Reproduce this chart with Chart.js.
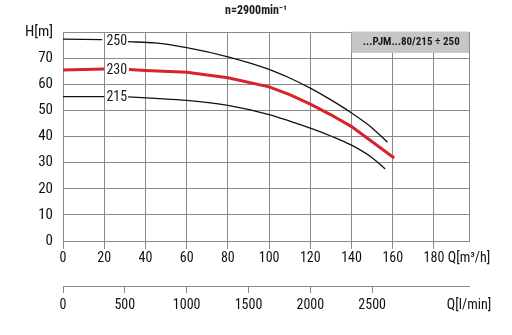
<!DOCTYPE html>
<html><head><meta charset="utf-8">
<script src="https://cdn.jsdelivr.net/npm/chart.js@4"></script>
<style>html,body{margin:0;padding:0;background:#fff}</style>
</head><body>
<canvas id="c" width="512" height="335"></canvas>
<script>
const TITLE = 'n=2900min⁻¹';
const MODEL = '...PJM...80/215 ÷ 250';
const Q_TICKS = [0, 20, 40, 60, 80, 100, 120, 140, 160, 180];
const Q_MAX = 197;
const Q_LABEL = 'Q[m³/h]';
const H_TICKS = [0, 10, 20, 30, 40, 50, 60, 70];
const H_MAX = 80;
const H_LABEL = 'H[m]';
const LPM_TICKS = [0, 500, 1000, 1500, 2000, 2500];
const LPM_LABEL = 'Q[l/min]';

const CURVE_NAMES = ['250', '230', '215'];
const LABEL_Q = 25.6;
const q250 = [0, 19, 25.6, 31.5, 44.7, 60, 80, 100, 110, 120, 130, 140, 150, 157.4];
const h250 = [77.3, 77.1, null, 76.3, 75.8, 74.0, 70.5, 65.7, 62.4, 58.5, 54.0, 49.0, 43.3, 37.8];
const q230 = [0, 20, 25.6, 32, 40, 60, 80, 100, 110, 120, 130, 140, 150, 160.7];
const h230 = [65.5, 65.8, null, 65.6, 65.3, 64.6, 62.5, 59.0, 56.0, 52.4, 48.3, 43.8, 38.0, 31.8];
const q215 = [0, 20, 25.6, 31.5, 45, 60, 80, 100, 110, 120, 130, 140, 150, 156.3];
const h215 = [55.3, 55.3, null, 55.2, 54.6, 53.8, 51.9, 48.4, 45.9, 43.2, 40.2, 36.7, 31.9, 27.6];

const MODEL_BOX_Q = 140;   // box starts at this flow
const MODEL_BOX_H = 72;    // box bottom head

const FONT = "'Roboto Condensed', 'Liberation Sans Narrow', 'Arial Narrow', 'Liberation Sans', Arial, sans-serif";
const GRID = '#8a8a8a';

const pts = (qs, hs) => qs.map((q, i) => ({x: q, y: hs[i]}));

const deco = {
  id: 'deco',
  beforeDatasetsDraw(chart) {
    const {ctx, scales: {x, y}} = chart;
    const x0 = x.getPixelForValue(MODEL_BOX_Q), x1 = x.getPixelForValue(Q_MAX);
    const y0 = y.getPixelForValue(H_MAX), y1 = y.getPixelForValue(MODEL_BOX_H);
    ctx.save();
    ctx.fillStyle = '#c6c6c6';
    ctx.fillRect(x0, y0 - 0.5, x1 - x0, y1 - y0 + 0.5);
    ctx.fillStyle = '#1a1a1a';
    ctx.font = 'bold 11px ' + FONT;
    ctx.textAlign = 'center';
    ctx.textBaseline = 'middle';
    ctx.fillText(MODEL, (x0 + x1) / 2 + 1, (y0 + y1) / 2);
    ctx.restore();
  },
  afterDatasetsDraw(chart) {
    const {ctx, scales: {x, y}} = chart;
    ctx.save();
    ctx.font = '14px ' + FONT;
    ctx.fillStyle = '#1a1a1a';
    ctx.textAlign = 'center';
    ctx.textBaseline = 'middle';
    chart.data.datasets.forEach((ds, i) => {
      const d = ds.data;
      const k = d.findIndex(p => p.y === null);
      const h = (d[k - 1].y + d[k + 1].y) / 2;
      ctx.fillText(CURVE_NAMES[i], x.getPixelForValue(LABEL_Q) + 1, y.getPixelForValue(h) + 1);
    });
    ctx.font = 'bold 12px ' + FONT;
    ctx.fillText(TITLE, 256, 11);
    ctx.restore();
  }
};

new Chart(document.getElementById('c'), {
  type: 'line',
  data: {
    datasets: [
      {label: CURVE_NAMES[0], data: pts(q250, h250), borderColor: '#111', borderWidth: 1.3, cubicInterpolationMode: 'monotone'},
      {label: CURVE_NAMES[1], data: pts(q230, h230), borderColor: '#d8232a', borderWidth: 3, tension: 0},
      {label: CURVE_NAMES[2], data: pts(q215, h215), borderColor: '#111', borderWidth: 1.3, cubicInterpolationMode: 'monotone'}
    ]
  },
  options: {
    responsive: false,
    animation: false,
    spanGaps: false,
    elements: {point: {radius: 0}},
    layout: {padding: {top: 32, right: 43, bottom: 0, left: 0}},
    plugins: {legend: {display: false}, tooltip: {enabled: false}, title: {display: false}},
    scales: {
      x: {
        type: 'linear', position: 'bottom', min: 0, max: Q_MAX, weight: 0,
        afterBuildTicks: s => { s.ticks = [...Q_TICKS, Q_MAX].map(v => ({value: v})); },
        afterFit: s => { s.height = 45; },
        ticks: {autoSkip: false, maxRotation: 0, padding: 1, color: '#111', font: {family: FONT, size: 14},
          callback: v => v === Q_MAX ? Q_LABEL : v},
        grid: {color: GRID, tickLength: 8,
          tickColor: c => (c.tick && c.tick.value === Q_MAX) ? 'rgba(0,0,0,0)' : GRID},
        border: {color: GRID}
      },
      x2: {
        type: 'linear', position: 'bottom', min: 0, max: Q_MAX * 1000 / 60, weight: 1,
        afterBuildTicks: s => { s.ticks = [...LPM_TICKS, Q_MAX * 1000 / 60].map(v => ({value: v})); },
        afterFit: s => { s.height = 49; },
        ticks: {autoSkip: false, maxRotation: 0, padding: 4, color: '#111', font: {family: FONT, size: 14},
          callback: (v, i, t) => i === t.length - 1 ? LPM_LABEL : v},
        grid: {drawOnChartArea: false, tickLength: 7,
          tickColor: c => (c.index === LPM_TICKS.length) ? 'rgba(0,0,0,0)' : GRID},
        border: {color: GRID}
      },
      y: {
        type: 'linear', position: 'left', min: 0, max: H_MAX,
        afterBuildTicks: s => { s.ticks = [...H_TICKS, H_MAX].map(v => ({value: v})); },
        afterFit: s => { s.width = 63; },
        ticks: {padding: 10, color: '#111', font: {family: FONT, size: 15},
          callback: v => v === H_MAX ? H_LABEL : v},
        grid: {color: GRID, drawTicks: false},
        border: {color: GRID}
      }
    }
  },
  plugins: [deco]
});
</script>
</body></html>
